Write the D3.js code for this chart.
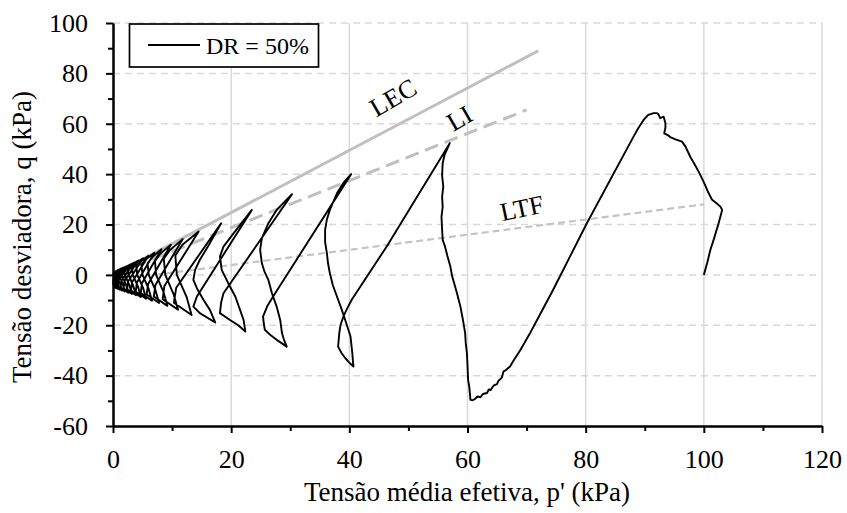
<!DOCTYPE html>
<html>
<head>
<meta charset="utf-8">
<script src="https://cdn.jsdelivr.net/npm/d3@7"></script>
<style>
  body { margin: 0; background: #fff; }
  svg { display: block; }
  svg text { font-family: "Liberation Serif", "Times New Roman", serif !important; fill: #000; }
</style>
</head>
<body>
<svg id="chart" width="847" height="513"></svg>
<script>
// axis ticks
const xMajor = [0, 20, 40, 60, 80, 100, 120];
const xMinor = [10, 30, 50, 70, 90, 110];
const yMajor = [-60, -40, -20, 0, 20, 40, 60, 80, 100];
const yMinor = [-50, -30, -10, 10, 30, 50, 70, 90];

// reference lines (p', q)
const lecLine = [[0, 0], [72, 89]];
const liLine = [[0, 0], [70, 65.5]];
const ltfLine = [[7, 0], [100, 28]];

// stress path, DR = 50% (p', q)
const firstLoading = [
  [100, 0], [100.6, 5], [101.1, 9.9], [101.8, 15], [102.5, 20.5], [103.1, 25.8], [102.8, 27.1],
  [102.2, 28.3], [101.4, 29.8], [100.8, 32.5], [100.2, 35.7], [99.4, 39.7], [98.6, 43.2],
  [97.7, 46.9], [96.9, 50.9], [96.3, 52.9], [95.2, 53.8], [94.4, 54.6], [93.8, 55.6], [93.3, 56.2],
  [93.5, 58.5], [93.5, 60.2], [93.2, 62.8], [92.9, 62.5], [92.6, 62.2], [92.3, 63.8], [92.1, 64.2],
  [91.5, 64.2], [90.6, 63.5], [89.8, 61.5], [88.9, 58.2], [88.1, 54.9]
];
const bigCycles = [
  [80.2, 20.5], [74.5, -5.9], [70.6, -23.1], [68.9, -30], [67.8, -34], [67.2, -36.4], [66.5, -37.8],
  [66.1, -38.3], [65.8, -40.8], [65.2, -42.2], [65, -43.4], [64.4, -44], [63.9, -45.8], [63.6, -45.5],
  [63.3, -46.9], [62.6, -47.3], [62.2, -48.6], [61.7, -48.3], [61.3, -49.2], [60.9, -49.8], [60.5, -49.6],
  [60.4, -47], [60.3, -44.5], [60.1, -41.7], [60.0, -36], [59.9, -31.1], [59.7, -27], [59.6, -23.1],
  [59.2, -17.5], [58.8, -12.6], [58.3, -8], [57.9, -4.6], [57.4, -0.5], [57.1, 3.3], [56.6, 7.5],
  [56.2, 11.2], [55.8, 13.9], [55.7, 18], [55.6, 23.1], [55.8, 27], [55.7, 31], [55.9, 35],
  [55.7, 39.5], [55.8, 44.3], [56.1, 47.5], [56.5, 49.6], [57.0, 52.3],
  [46.3, 11.2], [40.4, -9.9], [39.6, -13.5], [39.0, -16.5], [38.5, -20], [38.3, -23.1], [38.1, -28.5],
  [38.7, -31.1], [39.3, -33], [40.1, -35.1], [40.7, -36.4],
  [40.6, -34], [40.5, -31], [40.2, -24.5], [39.3, -17.9], [38.6, -13], [37.9, -8.6], [37.2, -4],
  [36.7, 0.7], [36.4, 4.5], [36.2, 8.6], [35.9, 13], [35.9, 17.9], [36.2, 22], [36.7, 25.8],
  [37.9, 32.4], [39.0, 36.5], [40.3, 40]
];
const midCycles = [
  [27.1, -8.6], [26.1, -12.5], [25.4, -16.5], [25.5, -19], [25.7, -21.8], [26.7, -24], [27.7, -25.8],
  [28.6, -27.2], [29.4, -28.5],
  [28.9, -25.5], [28.6, -23.1], [28.3, -17.9], [27.7, -12.6], [26.9, -7.3], [26.3, -2], [25.6, 1.5],
  [25.2, 4.6], [24.9, 9.9], [25.2, 14.6], [26.3, 20.5], [27.7, 25.8], [30.3, 32],
  [18.7, -7.3], [18.3, -11], [18.1, -15.2], [19.8, -17.9], [21.2, -20], [22.4, -22.5],
  [22.1, -17.9], [21.5, -13.9], [20.7, -8.6], [19.5, -3.3], [18.4, 2], [18.1, 7.3], [18.7, 11.2],
  [20.4, 16.5], [23.5, 25.8],
  [14.2, -8.6], [13.6, -12.6], [14.7, -15.2], [17.3, -18.9],
  [16.4, -13.9], [15.3, -9.9], [14.2, -5.3], [13.6, -2], [13.9, 2], [14.7, 6], [16.4, 12.6], [18.3, 20.5]
];
const smallCycles = [
  [10.7, -5.1], [10.3, -11.1], [13.3, -15.9], [12.45, -8.7], [10.8, 0], [10.55, 7.7], [11.75, 12.0], [14.5, 17.2],
  [8.7, -4.4], [8.4, -9.7], [11.0, -13.8], [10.25, -7.6], [8.85, 0], [8.6, 6.4], [9.65, 9.9], [11.8, 14.2],
  [7.2, -3.9], [6.9, -8.6], [9.2, -12.3], [8.55, -6.8], [7.3, 0], [7.1, 5.4], [8.0, 8.4], [9.8, 12.0],
  [5.95, -3.6], [5.7, -7.8], [7.8, -11.2], [7.2, -6.2], [6.05, 0], [5.85, 4.6], [6.7, 7.1], [8.2, 10.2],
  [4.9, -3.3], [4.7, -7.2], [6.6, -10.3], [6.05, -5.7], [5.0, 0], [4.8, 4.0], [5.6, 6.2], [7.0, 8.8],
  [4.05, -3.0], [3.85, -6.7], [5.6, -9.5], [5.1, -5.2], [4.1, 0], [3.95, 3.4], [4.7, 5.3], [6.0, 7.6],
  [3.25, -2.8], [3.05, -6.2], [4.7, -8.8], [4.25, -4.8], [3.35, 0], [3.2, 3.0], [3.85, 4.6], [5.1, 6.6],
  [2.55, -2.6], [2.4, -5.7], [3.9, -8.1], [3.45, -4.5], [2.65, 0], [2.5, 2.6], [3.1, 4.0], [4.3, 5.7],
  [1.95, -2.4], [1.8, -5.3], [3.2, -7.6], [2.8, -4.2], [2.0, 0], [1.9, 2.2], [2.45, 3.4], [3.6, 4.9],
  [1.45, -2.3], [1.3, -5.0], [2.6, -7.1], [2.2, -3.9], [1.5, 0], [1.4, 1.9], [1.9, 2.9], [3.0, 4.2],
  [0.9, -2.1], [0.8, -4.6], [2.0, -6.6], [1.65, -3.6], [1.0, 0], [0.9, 1.6], [1.35, 2.5], [2.4, 3.5],
  [0.5, -2.0], [0.35, -4.3], [1.5, -6.2], [1.2, -3.4], [0.55, 0], [0.45, 1.3], [0.9, 2.0], [1.9, 2.8],
  [0.2, -1.9], [0.15, -4.1], [1.1, -5.8], [0.8, -3.2], [0.25, 0], [0.2, 1.0], [0.55, 1.5], [1.4, 2.1],
  [0.1, -1.8], [0.1, -3.9], [0.7, -5.5], [0.45, -3.0], [0.1, 0], [0.1, 0.7], [0.35, 1.0], [1.0, 1.5],
  [0.05, -1.7], [0.05, -3.8], [0.4, -5.2], [0.2, -2.8], [0.1, -0.5]
];
const stressPath = firstLoading.concat(bigCycles, midCycles, smallCycles);

// line labels, placed in data units
const lineLabels = [
  { text: "LEC", p: 47.4, q: 70.5, angle: -30 },
  { text: "LI", p: 58.6, q: 62.3, angle: -30 },
  { text: "LTF", p: 69.2, q: 26.6, angle: -12 }
];

const svg = d3.select('#chart');
const x = d3.scaleLinear().domain([0, 120]).range([113, 822]);
const y = d3.scaleLinear().domain([-60, 100]).range([426, 23]);
const grid = '#d9d9d9';

// gridlines
svg.append('g').selectAll('line')
  .data(yMajor.filter(d => d > -60))
  .join('line')
  .attr('x1', x(0)).attr('x2', x(120))
  .attr('y1', d => y(d)).attr('y2', d => y(d))
  .attr('stroke', grid).attr('stroke-width', 1.5).attr('stroke-dasharray', '7,5');
svg.append('g').selectAll('line')
  .data(xMajor.filter(d => d > 0))
  .join('line')
  .attr('x1', d => x(d)).attr('x2', d => x(d))
  .attr('y1', y(-60)).attr('y2', y(100))
  .attr('stroke', grid).attr('stroke-width', 1.5);

const line = d3.line().x(d => x(d[0])).y(d => y(d[1]));

// reference lines
svg.append('path').datum(lecLine).attr('d', line)
  .attr('fill', 'none').attr('stroke', '#bfbfbf').attr('stroke-width', 3);
svg.append('path').datum(liLine).attr('d', line)
  .attr('fill', 'none').attr('stroke', '#bfbfbf').attr('stroke-width', 3).attr('stroke-dasharray', '14,7');
svg.append('path').datum(ltfLine).attr('d', line)
  .attr('fill', 'none').attr('stroke', '#c4c4c4').attr('stroke-width', 2.2).attr('stroke-dasharray', '7,4');

// stress path
svg.append('path').datum(stressPath).attr('d', line)
  .attr('fill', 'none').attr('stroke', '#000').attr('stroke-width', 1.9)
  .attr('stroke-linejoin', 'round');

// labels on the lines
svg.append('g').selectAll('text')
  .data(lineLabels)
  .join('text')
  .attr('transform', d => `translate(${x(d.p)},${y(d.q)}) rotate(${d.angle})`)
  .attr('text-anchor', 'middle')
  .attr('dy', '0.35em')
  .attr('font-size', 26)
  .text(d => d.text);

// axes
const fmt = d => String(d);
svg.append('g').attr('transform', `translate(${x(0)},0)`)
  .call(d3.axisLeft(y).tickValues(yMajor).tickFormat(fmt).tickSize(7).tickSizeOuter(0).tickPadding(18));
svg.append('g').attr('transform', `translate(${x(0)},0)`)
  .call(d3.axisLeft(y).tickValues(yMinor).tickFormat('').tickSize(5).tickSizeOuter(0));
svg.append('g').attr('transform', `translate(0,${y(-60)})`)
  .call(d3.axisBottom(x).tickValues(xMajor).tickFormat(fmt).tickSize(7).tickSizeOuter(0).tickPadding(17));
svg.append('g').attr('transform', `translate(0,${y(-60)})`)
  .call(d3.axisBottom(x).tickValues(xMinor).tickFormat('').tickSize(5).tickSizeOuter(0));

svg.selectAll('.domain').attr('stroke', '#000').attr('stroke-width', 2);
svg.selectAll('.tick line').attr('stroke', '#000').attr('stroke-width', 2);
svg.selectAll('.tick text').attr('font-size', 26);

// axis titles
svg.append('text')
  .attr('x', 467).attr('y', 501)
  .attr('text-anchor', 'middle').attr('font-size', 27)
  .text("Tensão média efetiva, p' (kPa)");
svg.append('text')
  .attr('transform', 'translate(31,237) rotate(-90)')
  .attr('text-anchor', 'middle').attr('font-size', 27)
  .text('Tensão desviadora, q (kPa)');

// legend
const legend = svg.append('g');
legend.append('rect')
  .attr('x', 129.5).attr('y', 24).attr('width', 189).attr('height', 43)
  .attr('fill', '#fff').attr('stroke', '#000').attr('stroke-width', 1.7);
legend.append('line')
  .attr('x1', 148).attr('x2', 200).attr('y1', 45).attr('y2', 45)
  .attr('stroke', '#000').attr('stroke-width', 2);
legend.append('text')
  .attr('x', 206).attr('y', 54).attr('font-size', 24)
  .text('DR = 50%');
</script>
</body>
</html>
